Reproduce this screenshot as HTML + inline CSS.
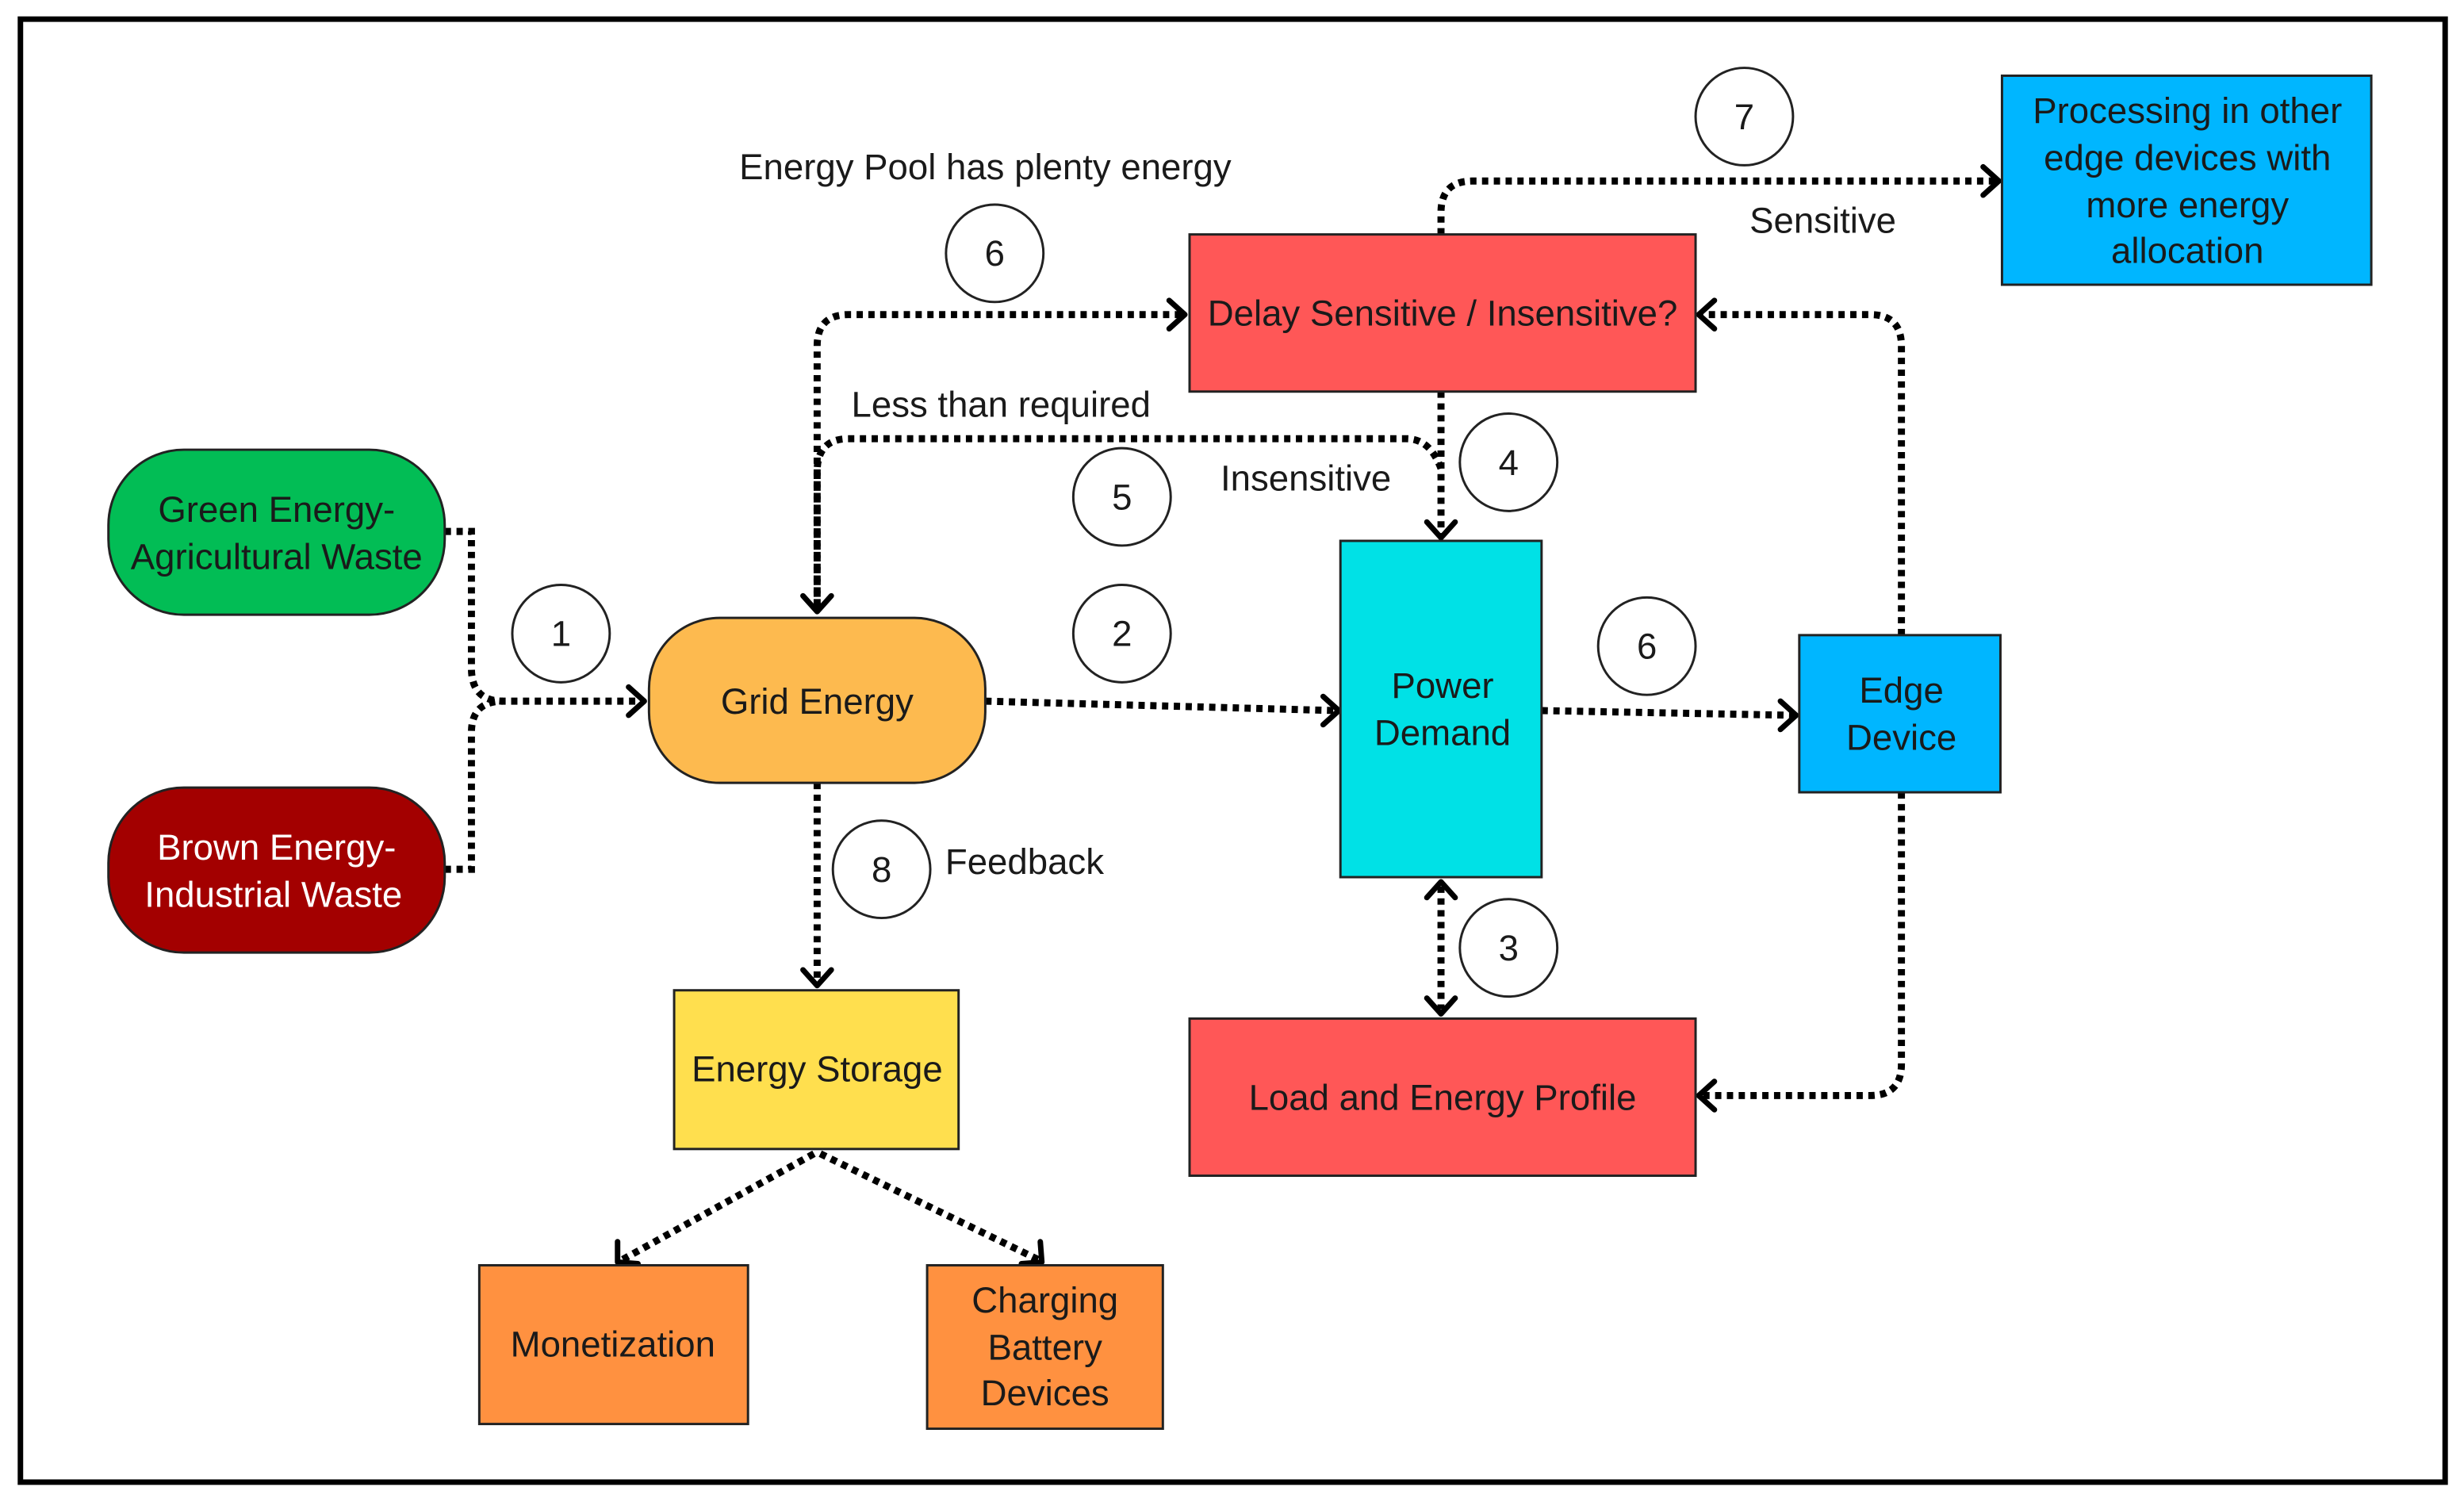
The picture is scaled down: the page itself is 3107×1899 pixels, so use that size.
<!DOCTYPE html>
<html><head><meta charset="utf-8"><style>
html,body{margin:0;padding:0;background:#fff}
svg{display:block}
text{font-family:"Liberation Sans",sans-serif;font-size:23px;fill:#1a1a1a;text-anchor:middle}
.c{fill:#fff;stroke:#222;stroke-width:1.5}
.l{fill:none;stroke:#000;stroke-width:4.5;stroke-dasharray:4 3.5}
.a{fill:none;stroke:#000;stroke-width:3.5;stroke-linecap:round;stroke-linejoin:round}
.b{stroke:#222;stroke-width:1.5}
</style></head><body>
<svg width="3107" height="1899" viewBox="0 0 1568 958" xmlns="http://www.w3.org/2000/svg">
<rect x="13" y="12" width="1543" height="931" fill="#fff" stroke="#000" stroke-width="3.5"/>

<!-- connectors -->
<path class="l" d="M283 338 H300 V425 Q300 446 320 446 H408"/>
<path class="l" d="M283 553 H300 V466 Q300 446 320 446"/>
<path class="a" d="M400 437 L410 446 L400 455"/>
<path class="l" d="M627 446 L850 452"/>
<path class="a" d="M842 443 L852 452 L842 461"/>
<path class="l" d="M520 498 V626"/>
<path class="a" d="M511 617 L520 627 L529 617"/>
<path class="l" d="M518 734 L395 802"/>
<path class="a" d="M393 790 L393 803 L406 804"/>
<path class="l" d="M522 734 L662 802"/>
<path class="a" d="M650 804 L663 803 L662 790"/>
<path class="l" d="M520 385 V220 Q520 200 540 200 H752"/>
<path class="a" d="M744 191 L754 200 L744 209"/>
<path class="l" d="M917 298 Q910 279 895 279 H540 Q520 279 520 300 V388"/>
<path class="a" d="M511 379 L520 389 L529 379"/>
<path class="l" d="M917 249 V341"/>
<path class="a" d="M908 332 L917 342 L926 332"/>
<path class="l" d="M917 149 V135 Q917 115 937 115 H1270"/>
<path class="a" d="M1262 106 L1272 115 L1262 124"/>
<path class="l" d="M1210 404 V220 Q1210 200 1190 200 H1083"/>
<path class="a" d="M1091 191 L1081 200 L1091 209"/>
<path class="l" d="M981 452 L1141 455"/>
<path class="a" d="M1133 446 L1143 455 L1133 464"/>
<path class="l" d="M1210 504 V677 Q1210 697 1190 697 H1083"/>
<path class="a" d="M1091 688 L1081 697 L1091 706"/>
<path class="l" d="M917 564 V642"/>
<path class="a" d="M908 571 L917 561 L926 571 M908 635 L917 645 L926 635"/>

<!-- nodes -->
<rect class="b" x="69" y="286" width="214" height="105" rx="48" fill="#02BD55"/>
<text x="176" y="332">Green Energy-</text><text x="176" y="362">Agricultural Waste</text>
<rect class="b" x="69" y="501" width="214" height="105" rx="48" fill="#A30000"/>
<text x="176" y="547" style="fill:#fff">Brown Energy-</text><text x="174" y="577" style="fill:#fff">Industrial Waste</text>
<rect class="b" x="413" y="393" width="214" height="105" rx="45" fill="#FDBA4F"/>
<text x="520" y="454">Grid Energy</text>
<rect class="b" x="429" y="630" width="181" height="101" fill="#FFDF4E"/>
<text x="520" y="688">Energy Storage</text>
<rect class="b" x="305" y="805" width="171" height="101" fill="#FF9140"/>
<text x="390" y="863">Monetization</text>
<rect class="b" x="590" y="805" width="150" height="104" fill="#FF9140"/>
<text x="665" y="835">Charging</text><text x="665" y="865">Battery</text><text x="665" y="894">Devices</text>
<rect class="b" x="757" y="149" width="322" height="100" fill="#FF5757"/>
<text x="918" y="207">Delay Sensitive / Insensitive?</text>
<rect class="b" x="853" y="344" width="128" height="214" fill="#00E1E6"/>
<text x="918" y="444">Power</text><text x="918" y="474">Demand</text>
<rect class="b" x="1145" y="404" width="128" height="100" fill="#00B6FF"/>
<text x="1210" y="447">Edge</text><text x="1210" y="477">Device</text>
<rect class="b" x="1274" y="48" width="235" height="133" fill="#00B6FF"/>
<text x="1392" y="78">Processing in other</text><text x="1392" y="108">edge devices with</text><text x="1392" y="138">more energy</text><text x="1392" y="167">allocation</text>
<rect class="b" x="757" y="648" width="322" height="100" fill="#FF5757"/>
<text x="918" y="706">Load and Energy Profile</text>

<!-- circles -->
<circle class="c" cx="357" cy="403" r="31"/><text x="357" y="411">1</text>
<circle class="c" cx="714" cy="403" r="31"/><text x="714" y="411">2</text>
<circle class="c" cx="714" cy="316" r="31"/><text x="714" y="324">5</text>
<circle class="c" cx="633" cy="161" r="31"/><text x="633" y="169">6</text>
<circle class="c" cx="960" cy="294" r="31"/><text x="960" y="302">4</text>
<circle class="c" cx="1048" cy="411" r="31"/><text x="1048" y="419">6</text>
<circle class="c" cx="960" cy="603" r="31"/><text x="960" y="611">3</text>
<circle class="c" cx="1110" cy="74" r="31"/><text x="1110" y="82">7</text>
<circle class="c" cx="561" cy="553" r="31"/><text x="561" y="561">8</text>

<!-- labels -->
<text x="627" y="114">Energy Pool has plenty energy</text>
<text x="637" y="265">Less than required</text>
<text x="831" y="312">Insensitive</text>
<text x="1160" y="148">Sensitive</text>
<text x="652" y="556">Feedback</text>
</svg>
</body></html>
